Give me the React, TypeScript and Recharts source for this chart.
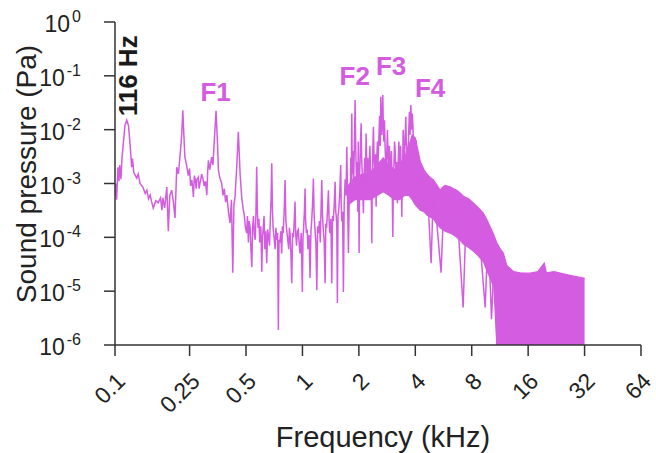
import { ComposedChart, Line, Area, XAxis, YAxis, ReferenceDot } from 'recharts';

const MAGENTA = '#d45ce0';
const INK = '#222222';
const FONT = '"Liberation Sans", Arial, sans-serif';

const freqTicks = [0.1, 0.25, 0.5, 1, 2, 4, 8, 16, 32, 64];
const pressureTicks = [1e-6, 1e-5, 1e-4, 1e-3, 1e-2, 1e-1, 1];

// [kHz, Pa]
const lowSegment: [number, number][] = [
  [0.1, 6.0e-4], [0.101, 1.0e-3], [0.102, 5.0e-4], [0.1037, 2.0e-3], [0.105, 1.1e-3],
  [0.106, 2.2e-3], [0.1076, 1.2e-3], [0.109, 3.0e-3], [0.111, 6.0e-3], [0.113, 1.2e-2],
  [0.1155, 1.5e-2], [0.118, 1.2e-2], [0.12, 6.0e-3], [0.1228, 2.0e-3], [0.124, 2.9e-3],
  [0.126, 1.6e-3], [0.1306, 1.26e-3], [0.133, 1.5e-3], [0.136, 1.0e-3], [0.141, 8.5e-4],
  [0.145, 6.5e-4], [0.148, 7.5e-4], [0.151, 5.2e-4], [0.154, 6.1e-4], [0.157, 4.5e-4],
  [0.16, 3.5e-4], [0.165, 4.8e-4], [0.17, 4.4e-4], [0.175, 5.4e-4], [0.178, 3.2e-4],
  [0.18, 5.4e-4], [0.184, 3.5e-4], [0.189, 8.6e-4], [0.1925, 1.3e-4], [0.196, 6.0e-4],
  [0.2007, 7.5e-4], [0.205, 4.5e-4], [0.209, 2.3e-4], [0.2135, 2.0e-3], [0.218, 1.5e-3],
  [0.222, 3.1e-3], [0.227, 8.0e-3], [0.23, 2.3e-2], [0.233, 8.0e-3], [0.236, 3.1e-3],
  [0.241, 2.2e-3], [0.246, 1.4e-3], [0.25, 1.9e-3], [0.253, 9.0e-4], [0.257, 1.16e-3],
  [0.26, 8.0e-4], [0.262, 5.6e-4], [0.265, 1.4e-3], [0.268, 1.2e-3], [0.271, 8.0e-4],
  [0.273, 1.16e-3], [0.278, 1.3e-3], [0.281, 8.0e-4], [0.284, 1.0e-3], [0.29, 1.5e-3],
  [0.295, 1.2e-3], [0.299, 9.0e-4], [0.304, 1.1e-3], [0.309, 6.1e-4], [0.312, 1.6e-3],
  [0.315, 2.7e-3], [0.32, 1.8e-3], [0.328, 3.1e-3], [0.333, 2.2e-3], [0.338, 5.5e-3],
  [0.346, 2.25e-2], [0.352, 6.0e-3], [0.356, 1.8e-3], [0.362, 1.3e-3], [0.371, 1.0e-3],
  [0.377, 6.0e-4], [0.383, 8.0e-4], [0.389, 4.5e-4], [0.395, 6.1e-4], [0.403, 3.0e-4],
  [0.411, 1.84e-4], [0.418, 5.0e-4], [0.425, 2.2e-5], [0.431, 4.0e-4], [0.437, 5.7e-4],
  [0.446, 2.0e-3], [0.455, 9.1e-3], [0.465, 1.5e-3], [0.474, 5.7e-4], [0.482, 3.5e-4],
  [0.49, 2.5e-4], [0.497, 1.5e-4],
];

const midSegment: [number, number][] = [
  [0.504, 1.2e-4], [0.509, 2.5e-4], [0.515, 8.0e-5], [0.52, 2.0e-4], [0.526, 1.5e-4],
  [0.531, 6.0e-5], [0.537, 2.8e-5], [0.542, 1.5e-4], [0.548, 2.5e-4], [0.554, 1.1e-4],
  [0.56, 9.0e-5], [0.565, 3.0e-4], [0.57, 2.04e-3], [0.575, 3.0e-4], [0.58, 1.5e-4],
  [0.586, 2.2e-4], [0.592, 8.0e-5], [0.6, 1.6e-4], [0.607, 2.3e-5], [0.612, 1.0e-4],
  [0.618, 1.5e-4], [0.624, 2.5e-4], [0.63, 6.0e-5], [0.637, 1.3e-4], [0.645, 3.3e-5],
  [0.652, 1.4e-4], [0.66, 1.0e-4], [0.667, 7.0e-5], [0.675, 2.5e-4], [0.68, 5.0e-4],
  [0.686, 2.37e-3], [0.692, 3.0e-4], [0.698, 1.4e-4], [0.706, 1.0e-4], [0.715, 6.0e-5],
  [0.722, 1.5e-4], [0.73, 9.0e-5], [0.737, 1.2e-4], [0.744, 1.9e-6], [0.75, 9.0e-5],
  [0.758, 8.0e-5], [0.766, 1.3e-4], [0.775, 5.0e-5], [0.782, 1.6e-4], [0.79, 1.2e-4],
  [0.8, 3.5e-4], [0.808, 1.16e-3], [0.816, 2.0e-4], [0.825, 1.3e-4], [0.835, 9.0e-5],
  [0.845, 6.0e-5], [0.852, 1.5e-4], [0.86, 1.1e-4], [0.868, 5.0e-5], [0.877, 1.4e-5],
  [0.886, 1.2e-4], [0.895, 1.0e-4], [0.904, 2.0e-4], [0.913, 4.6e-4], [0.92, 1.2e-4],
  [0.93, 7.0e-5], [0.94, 1.3e-4], [0.95, 1.4e-4], [0.96, 8.0e-5], [0.97, 5.0e-5],
  [0.985, 1.2e-4], [0.999, 9.7e-6], [1.007, 1.0e-4], [1.015, 1.5e-4], [1.024, 3.0e-4],
  [1.033, 8.1e-4], [1.04, 2.0e-4], [1.05, 1.2e-4], [1.06, 1.4e-4], [1.07, 6.0e-5],
  [1.085, 1.1e-4], [1.098, 1.75e-5], [1.11, 1.3e-4], [1.12, 2.0e-4], [1.132, 4.0e-4],
  [1.144, 1.24e-3], [1.155, 2.5e-4], [1.165, 1.5e-4], [1.18, 8.0e-5], [1.193, 1.04e-5],
  [1.205, 1.6e-4], [1.22, 1.2e-4], [1.232, 2.0e-4], [1.245, 8.0e-5], [1.256, 3.0e-4],
  [1.268, 1.16e-3], [1.28, 2.5e-4], [1.29, 1.5e-4], [1.305, 9.0e-5], [1.321, 1.4e-5],
  [1.333, 1.8e-4], [1.345, 1.5e-4], [1.36, 3.0e-4], [1.376, 7.5e-4], [1.388, 2.0e-4],
  [1.4, 1.2e-4], [1.418, 2.2e-4], [1.434, 1.4e-5], [1.447, 2.5e-4], [1.46, 2.0e-4],
  [1.477, 4.0e-4], [1.494, 1.08e-3], [1.505, 3.0e-4], [1.515, 2.5e-4], [1.525, 1.5e-4],
  [1.536, 6.0e-6], [1.548, 2.5e-4], [1.56, 3.0e-4], [1.58, 6.0e-4], [1.6, 2.2e-3],
  [1.61, 4.0e-4], [1.622, 2.0e-4], [1.638, 3.0e-4], [1.654, 9.7e-6], [1.67, 4.0e-4],
  [1.69, 1.2e-3], [1.708, 6.0e-4], [1.725, 4.8e-3], [1.74, 5.0e-4], [1.759, 5.1e-5],
  [1.78, 8.0e-4],
];

const formantSegment: [number, number][] = [
  [1.8, 5.0e-4], [1.81, 3.0e-3], [1.82, 7.0e-4], [1.834, 2.0e-2], [1.842, 2.0e-3],
  [1.85, 1.5e-3], [1.86, 4.0e-3], [1.87, 5.7e-4], [1.88, 1.5e-3], [1.89, 4.0e-3],
  [1.9, 1.2e-2], [1.91, 3.55e-2], [1.92, 8.0e-3], [1.93, 3.0e-3], [1.945, 8.0e-4],
  [1.955, 2.5e-3], [1.965, 1.16e-3], [1.975, 3.0e-4], [1.985, 6.0e-3], [1.995, 1.2e-3],
  [2.006, 5.1e-5], [2.018, 1.5e-3], [2.03, 2.5e-3], [2.043, 7.0e-3], [2.057, 1.31e-2],
  [2.07, 3.0e-3], [2.085, 1.5e-3], [2.1, 6.0e-4], [2.115, 2.8e-4], [2.13, 1.2e-3],
  [2.15, 3.0e-3], [2.168, 1.5e-3], [2.186, 8.5e-3], [2.2, 3.0e-3], [2.215, 1.5e-3],
  [2.232, 3.0e-3], [2.249, 7.5e-4], [2.27, 2.0e-3], [2.29, 5.0e-3], [2.305, 2.0e-3],
  [2.32, 1.0e-3], [2.333, 4.0e-4], [2.345, 7.8e-5], [2.357, 1.0e-3], [2.37, 3.0e-3],
  [2.38, 6.0e-3], [2.392, 1.13e-2], [2.41, 3.0e-3], [2.43, 1.5e-3], [2.45, 3.5e-3],
  [2.472, 3.7e-4], [2.49, 2.5e-3], [2.51, 6.0e-3], [2.527, 2.0e-3], [2.543, 4.2e-3],
  [2.56, 8.0e-3], [2.58, 1.8e-2], [2.6, 5.0e-3], [2.619, 4.1e-2], [2.635, 1.0e-2],
  [2.65, 8.0e-3], [2.667, 2.0e-2], [2.684, 4.4e-2], [2.7, 1.2e-2], [2.72, 6.0e-3],
  [2.74, 1.5e-2], [2.76, 4.8e-3], [2.78, 2.5e-3], [2.8, 1.5e-3], [2.82, 4.0e-3],
  [2.84, 9.8e-3], [2.865, 3.0e-3], [2.89, 2.0e-3], [2.91, 5.0e-3], [2.936, 8.7e-4],
  [2.96, 2.0e-3], [2.98, 4.0e-3], [3.005, 1.5e-3], [3.035, 1.02e-4], [3.055, 1.0e-3],
  [3.08, 2.5e-3], [3.1, 6.0e-3], [3.123, 4.2e-3], [3.145, 2.0e-3], [3.17, 1.0e-3],
  [3.19, 2.5e-3], [3.21, 4.3e-4], [3.23, 1.5e-3], [3.25, 3.5e-3], [3.27, 6.0e-3],
  [3.29, 1.56e-3], [3.315, 2.5e-3], [3.34, 5.0e-3], [3.365, 1.5e-3], [3.39, 2.4e-4],
  [3.41, 1.5e-3], [3.43, 3.0e-3], [3.445, 1.0e-2], [3.46, 7.4e-3], [3.485, 2.0e-3],
  [3.51, 3.0e-3], [3.535, 8.0e-3], [3.56, 1.74e-2], [3.58, 6.0e-3], [3.6, 5.0e-3],
  [3.625, 2.0e-3], [3.65, 1.16e-3], [3.67, 4.0e-3], [3.69, 9.0e-3], [3.705, 1.4e-2],
  [3.72, 2.15e-2], [3.735, 1.0e-2], [3.75, 8.0e-3], [3.77, 1.8e-2], [3.787, 2.87e-2],
  [3.81, 1.5e-2], [3.83, 1.0e-2], [3.855, 2.0e-2], [3.88, 1.31e-2], [3.91, 6.0e-3],
  [3.94, 3.0e-3], [3.965, 5.0e-3], [3.99, 7.5e-4], [4.015, 4.0e-3], [4.04, 6.4e-3],
  [4.07, 3.0e-3], [4.1, 2.0e-3],
];

// downward spikes that poke out under the dense band
const decaySegment: [number, number][] = [
  [4.2, 4.0e-4], [4.3, 2.2e-3], [4.45, 3.5e-4], [4.6, 1.4e-3], [4.86, 3.3e-5],
  [5.0, 9.0e-4], [5.2, 2.0e-4], [5.49, 2.2e-5], [5.7, 6.0e-4], [6.0, 1.5e-4],
  [6.4, 6.0e-4], [6.8, 1.2e-4], [7.2, 5.0e-6], [7.5, 4.0e-4], [8.0, 8.0e-5],
  [8.5, 3.0e-4], [9.0, 4.0e-5], [9.44, 5.0e-6], [9.8, 1.5e-4], [10.2, 3.0e-6],
  [10.6, 6.0e-5], [10.9, 1.0e-6],
];

// dense part of the spectrum: lower and upper envelope
const bandFreqs = [
  1.75, 1.9, 2.1, 2.3, 2.5, 2.7, 2.9, 3.1, 3.3, 3.5, 3.7, 3.85,
  4.0, 4.25, 4.45, 4.61, 4.8, 5.0, 5.2, 5.43, 5.6, 5.77, 6.14, 6.4, 6.66, 7.0, 7.23,
  7.7, 8.18, 8.7, 9.24, 9.6, 10.0, 10.5, 10.9, 11.4, 11.8, 12.3, 13.4, 14.5, 16.4,
  18.0, 19.5, 20.0, 22.0, 24.6, 28.0, 31.6, 32.0,
];
const bandLow = [
  4.0e-4, 5.0e-4, 5.0e-4, 5.0e-4, 6.0e-4, 7.0e-4, 6.0e-4, 5.0e-4, 5.0e-4, 6.0e-4, 6.0e-4, 5.0e-4,
  4.0e-4, 3.2e-4, 3.0e-4, 2.6e-4, 2.4e-4, 2.2e-4, 1.8e-4, 1.5e-4, 1.4e-4, 1.3e-4, 1.2e-4,
  1.1e-4, 1.0e-4, 8.5e-5, 7.5e-5, 6.5e-5, 5.5e-5, 4.5e-5, 3.5e-5, 2.5e-5, 1.8e-5, 1.2e-5,
  1e-6, 1e-6, 1e-6, 1e-6, 1e-6, 1e-6, 1e-6, 1e-6, 1e-6, 1e-6, 1e-6, 1e-6, 1e-6, 1e-6, 1e-6,
];
const bandHigh = [
  9.0e-4, 1.3e-3, 1.5e-3, 1.6e-3, 2.2e-3, 3.0e-3, 2.2e-3, 1.8e-3, 2.2e-3, 3.0e-3, 5.0e-3, 8.0e-3,
  7.0e-3, 2.6e-3, 1.8e-3, 1.5e-3, 1.3e-3, 1.16e-3, 9.5e-4, 7.5e-4, 8.5e-4, 9.2e-4, 8.7e-4,
  8.0e-4, 7.5e-4, 6.5e-4, 5.8e-4, 5.2e-4, 4.3e-4, 3.5e-4, 2.8e-4, 2.2e-4, 1.6e-4, 1.1e-4,
  7.8e-5, 6.0e-5, 5.1e-5, 3.0e-5, 2.3e-5, 2.2e-5, 2.16e-5, 2.3e-5, 3.3e-5, 2.2e-5,
  2.3e-5, 2.1e-5, 1.9e-5, 1.75e-5, 1.75e-5,
];

const formantLabels = [
  { text: 'F1', f: 0.344, p: 3.44e-2 },
  { text: 'F2', f: 1.9, p: 6.75e-2 },
  { text: 'F3', f: 2.97, p: 0.1035 },
  { text: 'F4', f: 4.8, p: 0.04 },
];
const fundamentalLabel = { text: '116 Hz', f: 0.131, p: 0.1 };

const spectrum = [...lowSegment, ...midSegment, ...formantSegment, ...decaySegment].map(
  ([f, p]) => ({ f, p })
);
const band = bandFreqs.map((f, i) => ({ f, range: [bandLow[i], bandHigh[i]] }));

function FreqTick({ x, y, payload }: any) {
  const ax = x + 6;
  const ay = y + 19;
  return (
    <text
      x={ax}
      y={ay}
      transform={`rotate(-45, ${ax}, ${ay})`}
      textAnchor="end"
      dominantBaseline="central"
      fontSize={23}
      fill={INK}
      fontFamily={FONT}
    >
      {String(payload.value)}
    </text>
  );
}

function PressureTick({ x, y, payload }: any) {
  const exp = Math.round(Math.log10(payload.value));
  return (
    <text x={x - 13} y={y + 10} textAnchor="end" fontSize={23} fill={INK} fontFamily={FONT}>
      10
      <tspan dx={2} dy={-10} fontSize={16}>
        {exp}
      </tspan>
    </text>
  );
}

function XTitle() {
  return (
    <text x={383} y={447} textAnchor="middle" fontSize={29} fill={INK} fontFamily={FONT}>
      Frequency (kHz)
    </text>
  );
}

function YTitle() {
  return (
    <text
      x={36}
      y={174}
      transform="rotate(-90, 36, 174)"
      textAnchor="middle"
      fontSize={28}
      fill={INK}
      fontFamily={FONT}
    >
      Sound pressure (Pa)
    </text>
  );
}

export default function App() {
  return (
    <div style={{ position: 'absolute', left: 0, top: 0, background: '#fff' }}>
      <ComposedChart width={656} height={453} margin={{ top: 22, right: 15, bottom: 0, left: 0 }}>
        <XAxis
          type="number"
          dataKey="f"
          scale="log"
          domain={[0.1, 64]}
          ticks={freqTicks}
          allowDataOverflow
          height={108}
          tickSize={11}
          tickMargin={2}
          stroke="#333"
          strokeWidth={1.5}
          tick={<FreqTick />}
          label={<XTitle />}
        />
        <YAxis
          type="number"
          scale="log"
          domain={[1e-6, 1]}
          ticks={pressureTicks}
          allowDataOverflow
          width={115}
          tickSize={11}
          tickMargin={10}
          stroke="#333"
          strokeWidth={1.5}
          tick={<PressureTick />}
          label={<YTitle />}
        />
        <Area
          data={band}
          dataKey="range"
          type="linear"
          stroke={MAGENTA}
          strokeWidth={1.2}
          fill={MAGENTA}
          fillOpacity={1}
          isAnimationActive={false}
        />
        <Line
          data={spectrum}
          dataKey="p"
          type="linear"
          stroke={MAGENTA}
          strokeWidth={1.5}
          dot={false}
          isAnimationActive={false}
        />
        {formantLabels.map((l) => (
          <ReferenceDot
            key={l.text}
            x={l.f}
            y={l.p}
            r={0}
            shape={(props: any) => (
              <text
                x={props.cx}
                y={props.cy}
                textAnchor="middle"
                fontSize={26}
                fontWeight="bold"
                fill={MAGENTA}
                fontFamily={FONT}
              >
                {l.text}
              </text>
            )}
          />
        ))}
        <ReferenceDot
          x={fundamentalLabel.f}
          y={fundamentalLabel.p}
          r={0}
          shape={(props: any) => (
            <text
              x={props.cx}
              y={props.cy}
              transform={`rotate(-90, ${props.cx}, ${props.cy})`}
              textAnchor="middle"
              fontSize={26}
              fontWeight="bold"
              fill="#1a1a1a"
              fontFamily={FONT}
            >
              {fundamentalLabel.text}
            </text>
          )}
        />
      </ComposedChart>
    </div>
  );
}
